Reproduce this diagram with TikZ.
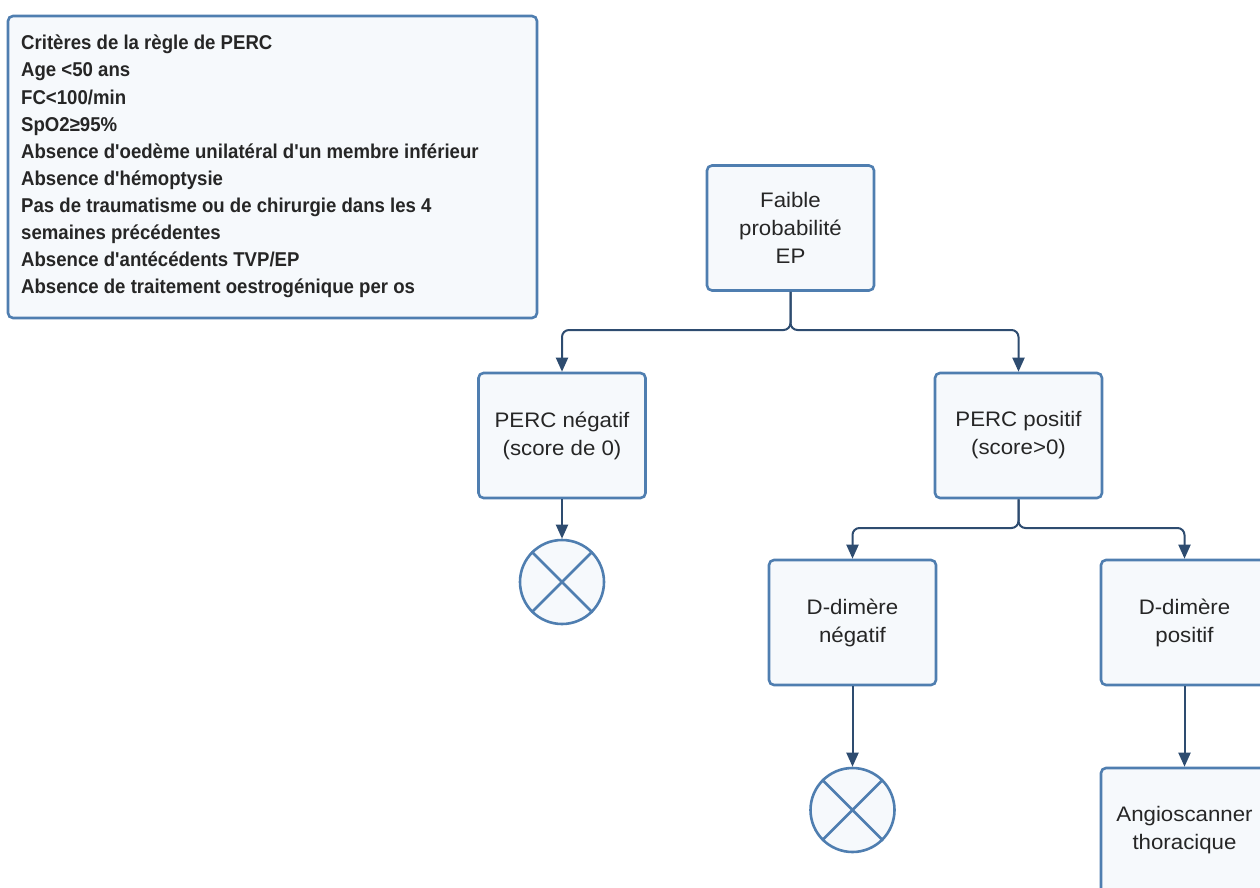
\documentclass[tikz,border=0pt]{standalone}
\usepackage{fontspec}
\setmainfont{Liberation Sans}
\newfontfamily\narrowbold[FakeStretch=0.93]{Liberation Sans Bold}
\newfontfamily\boxfont[FakeStretch=1.06]{Liberation Sans}
\usetikzlibrary{arrows.meta}
\definecolor{boxline}{HTML}{4F7EB0}
\definecolor{boxfill}{HTML}{F6F9FC}
\definecolor{conn}{HTML}{2E4C70}
\definecolor{txt}{HTML}{262626}
\tikzset{
  stepbox/.style={draw=boxline, fill=boxfill, line width=2.6pt, rounded corners=5pt,
    minimum width=167pt, minimum height=125pt, align=center, text=txt,
    font=\boxfont\fontsize{21}{28}\selectfont, inner sep=0pt},
  endcircle/.style={draw=boxline, fill=boxfill, line width=2.6pt, circle, minimum size=84pt, inner sep=0pt},
  conn/.style={draw=conn, line width=2pt, rounded corners=7pt, -{Triangle[length=14pt,width=12pt]}},
}
\begin{document}
\begin{tikzpicture}[x=1pt,y=-1pt]
\useasboundingbox (0,0) rectangle (1260,888);
\clip (0,0) rectangle (1260,888);
\node[draw=boxline, fill=boxfill, line width=2.6pt, rounded corners=5pt,
      minimum width=529pt, minimum height=302pt, inner sep=0pt] (crit) at (272.5,167) {};
\node[anchor=north west, align=left, text=txt, inner sep=0pt,
      font=\narrowbold\fontsize{20}{27.1}\selectfont] (crittext) at (21,35) {Critères de la règle de PERC\\
Age <50 ans\\
FC<100/min\\
SpO2≥95\%\\
Absence d'oedème unilatéral d'un membre inférieur\\
Absence d'hémoptysie\\
Pas de traumatisme ou de chirurgie dans les 4\\
semaines précédentes\\
Absence d'antécédents TVP/EP\\
Absence de traitement oestrogénique per os};

\node[stepbox] (faible) at (790.5,228) {Faible\\probabilité\\EP};
\node[stepbox] (pneg) at (562,435.5) {PERC négatif\\(score de 0)};
\node[stepbox] (ppos) at (1018.5,435.5) {PERC positif\\(score>0)};
\node[stepbox] (dneg) at (852.5,622.5) {D-dimère\\négatif};
\node[stepbox] (dpos) at (1184.5,622.5) {D-dimère\\positif};
\node[stepbox] (angio) at (1184.5,830.5) {Angioscanner\\thoracique};
\node[endcircle] (x1) at (562,582) {};
\node[endcircle] (x2) at (852.5,810) {};
\draw[boxline, line width=2.6pt] (x1.45) -- (x1.225) (x1.135) -- (x1.315);
\draw[boxline, line width=2.6pt] (x2.45) -- (x2.225) (x2.135) -- (x2.315);

\coordinate (j1) at (790.5,330);
\draw[conn] (faible.south) -- (j1) -| (pneg.north);
\draw[conn] (faible.south) -- (j1) -| (ppos.north);
\coordinate (j2) at (1018.5,528);
\draw[conn] (ppos.south) -- (j2) -| (dneg.north);
\draw[conn] (ppos.south) -- (j2) -| (dpos.north);
\draw[conn] (pneg.south) -- (x1.north);
\draw[conn] (dneg.south) -- (x2.north);
\draw[conn] (dpos.south) -- (angio.north);
\end{tikzpicture}
\end{document}
